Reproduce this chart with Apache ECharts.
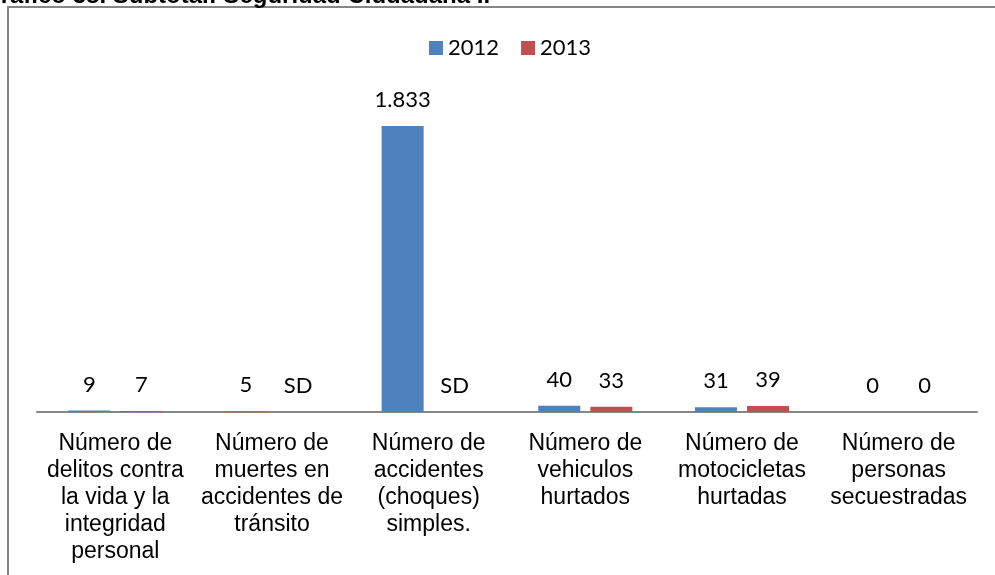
<!DOCTYPE html>
<html>
<head>
<meta charset="utf-8">
<script src="https://cdn.jsdelivr.net/npm/echarts@6/dist/echarts.min.js"></script>
<style>
html,body{margin:0;padding:0;background:#fff;}
#chart{width:995px;height:575px;}
</style>
</head>
<body>
<div id="chart"></div>
<script>
const titleText = 'Gráfico 38. Subtotal: Seguridad Ciudadana I.';
const categories = [
  'Número de\ndelitos contra\nla vida y la\nintegridad\npersonal',
  'Número de\nmuertes en\naccidentes de\ntránsito',
  'Número de\naccidentes\n(choques)\nsimples.',
  'Número de\nvehiculos\nhurtados',
  'Número de\nmotocicletas\nhurtadas',
  'Número de\npersonas\nsecuestradas'
];
const seriesNames = ['2012', '2013'];
const v2012 = [9, 5, 1833, 40, 31, 0];
const v2013 = [7, 'SD', 'SD', 33, 39, 0];

function fmt(v) {
  return String(v).replace(/\B(?=(\d{3})+(?!\d))/g, '.');
}
function toData(arr) {
  return arr.map(v => typeof v === 'number'
    ? v
    : { value: 0, label: { formatter: String(v) } });
}

const chart = echarts.init(document.getElementById('chart'), null, { renderer: 'canvas' });
const labelCfg = {
  show: true,
  position: 'top',
  distance: 15,
  fontFamily: 'Lato',
  fontSize: 22,
  color: '#000',
  formatter: p => fmt(p.value)
};
chart.setOption({
  animation: false,
  backgroundColor: '#fff',
  graphic: [
    {
      type: 'rect',
      shape: { x: 8, y: 7, width: 1400, height: 1000 },
      style: { fill: 'none', stroke: '#868686', lineWidth: 2 },
      silent: true
    },
    {
      type: 'text',
      x: -18,
      y: -4,
      z: 10,
      style: {
        text: titleText,
        font: 'bold 24px "Liberation Sans", Arial, sans-serif',
        fill: '#000',
        verticalAlign: 'middle',
        align: 'left'
      },
      silent: true
    }
  ],
  legend: {
    data: seriesNames,
    left: 424,
    top: 32,
    itemWidth: 14,
    itemHeight: 14,
    itemGap: 22,
    icon: 'rect',
    textStyle: { fontFamily: 'Lato', fontSize: 22, color: '#000' }
  },
  grid: { left: 37, right: 18, top: 100, bottom: 163 },
  xAxis: {
    type: 'category',
    data: categories,
    axisLine: { lineStyle: { color: '#868686', width: 2 } },
    axisTick: { show: false },
    axisLabel: {
      interval: 0,
      margin: 18,
      fontFamily: '"Liberation Sans", Arial, sans-serif',
      fontSize: 23,
      lineHeight: 27,
      color: '#000',
      align: 'center'
    }
  },
  yAxis: {
    type: 'value',
    min: 0,
    max: 2000,
    show: false,
    splitLine: { show: false }
  },
  series: [
    {
      name: seriesNames[0],
      type: 'bar',
      data: toData(v2012),
      barWidth: 42,
      barGap: '24%',
      itemStyle: { color: '#4F81BD' },
      label: labelCfg
    },
    {
      name: seriesNames[1],
      type: 'bar',
      data: toData(v2013),
      barWidth: 42,
      barGap: '24%',
      itemStyle: { color: '#C0504D' },
      label: labelCfg
    }
  ]
});
</script>
</body>
</html>
